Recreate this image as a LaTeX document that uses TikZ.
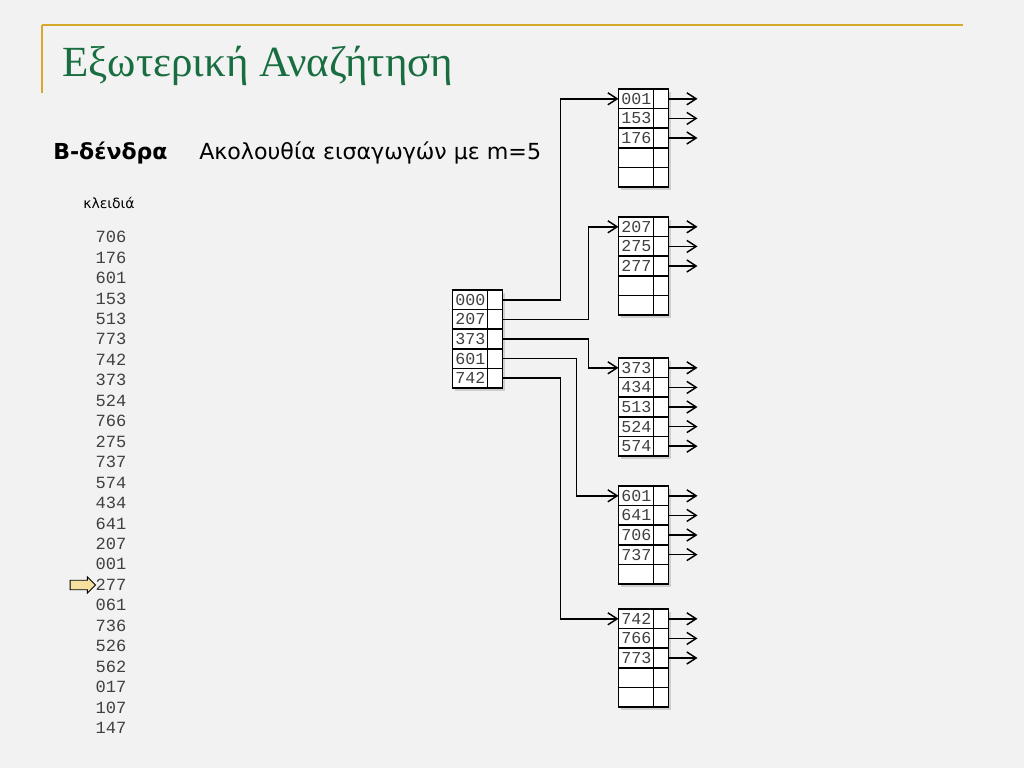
\documentclass[tikz,border=0pt]{standalone}
\usepackage{fontspec}
\setmainfont{Liberation Serif}
\setsansfont{DejaVu Sans}
\setmonofont{Liberation Mono}
\usetikzlibrary{positioning,arrows.meta,shadows,shapes.arrows}
\definecolor{bgc}{RGB}{242,242,242}
\definecolor{titlegreen}{RGB}{24,110,64}
\definecolor{rulegold}{RGB}{214,168,44}
\definecolor{keygray}{RGB}{64,64,64}
\definecolor{markyellow}{RGB}{246,224,160}
\begin{document}
\begin{tikzpicture}[x=0.75pt, y=-0.75pt,
    kcell/.style={draw, fill=white, line width=1.1pt, minimum width=26.25pt,
                  minimum height=14.7pt, inner sep=0pt, outer sep=0pt,
                  drop shadow={shadow xshift=2pt, shadow yshift=-2pt, opacity=0.3}},
    pcell/.style={kcell, minimum width=11.25pt},
    celltxt/.style={font=\ttfamily\fontsize{12.5}{12}\selectfont, text=keygray,
                    inner sep=0pt, anchor=west, xshift=2pt},
    keytxt/.style={font=\ttfamily\fontsize{12.8}{12}\selectfont, text=keygray, inner sep=0pt},
    link/.style={-{Straight Barb[length=7pt, width=9pt]}, line width=1.1pt},
    curarrow/.style={single arrow, draw, fill=markyellow, line width=0.7pt,
                 minimum height=19pt, inner xsep=0pt, inner ysep=3.2pt,
                 single arrow head extend=2.6pt}
]
\fill[bgc] (0,0) rectangle (1024,768);
\useasboundingbox (0,0) rectangle (1024,768);

% header
\draw[rulegold, line width=1.5pt] (42,25) -- (963,25);
\draw[rulegold, line width=1.5pt] (42,25) -- (42,93);
\node[anchor=base west, inner sep=0pt, text=titlegreen, font=\fontsize{32.25}{33}\selectfont]
    (title) at (62,76) {Εξωτερική Αναζήτηση};
\node[anchor=base west, inner sep=0pt, font=\sffamily\bfseries\fontsize{16.5}{18}\selectfont]
    (btree) at (53,159) {B-δένδρα};
\node[anchor=base west, inner sep=0pt, font=\sffamily\fontsize{16.6}{18}\selectfont]
    (seq) at (199,159) {Ακολουθία εισαγωγών με m=5};
\node[anchor=base west, inner sep=0pt, font=\sffamily\fontsize{10.5}{12}\selectfont]
    (keyshead) at (83,208) {κλειδιά};

% insertion sequence
\foreach \k [count=\i] in {706,176,601,153,513,773,742,373,524,766,275,737,574,
                           434,641,207,001,277,061,736,526,562,017,107,147}
    \node[keytxt] (k\i) at (111,{237+(\i-1)*20.46}) {\k};
\node[curarrow] (cur) at (80.5,585) {};

% root
\foreach \r in {1,...,5} {
    \node[kcell] (R\r) at (470,{290+9.8+(\r-1)*19.6}) {};
    \node[pcell, right=0pt of R\r] (Rp\r) {};
}
\foreach \k [count=\r] in {000,207,373,601,742}
    \node[celltxt] (Rt\r) at (R\r.west) {\k};

% leaves
\foreach \b/\by/\keys in {A/89/{001,153,176}, B/217/{207,275,277},
                          C/358/{373,434,513,524,574}, D/486/{601,641,706,737},
                          E/609/{742,766,773}} {
    \foreach \r in {1,...,5} {
        \node[kcell] (\b\r) at (636,{\by+9.8+(\r-1)*19.6}) {};
        \node[pcell, right=0pt of \b\r] (\b p\r) {};
    }
    \foreach \k [count=\r] in \keys {
        \node[celltxt] (\b t\r) at (\b\r.west) {\k};
        \coordinate (\b o\r) at ([xshift=21.75pt]\b p\r.east);
        \draw[link] (\b p\r.east) -- (\b o\r);
    }
}

% root -> leaves
\draw[link] (Rp1.east) -- ++(58,0) |- (A1.west);
\draw[link] (Rp2.east) -- ++(86,0) |- (B1.west);
\draw[link] (Rp3.east) -- ++(86,0) |- (C1.west);
\draw[link] (Rp4.east) -- ++(74,0) |- (D1.west);
\draw[link] (Rp5.east) -- ++(58,0) |- (E1.west);
\end{tikzpicture}
\end{document}
